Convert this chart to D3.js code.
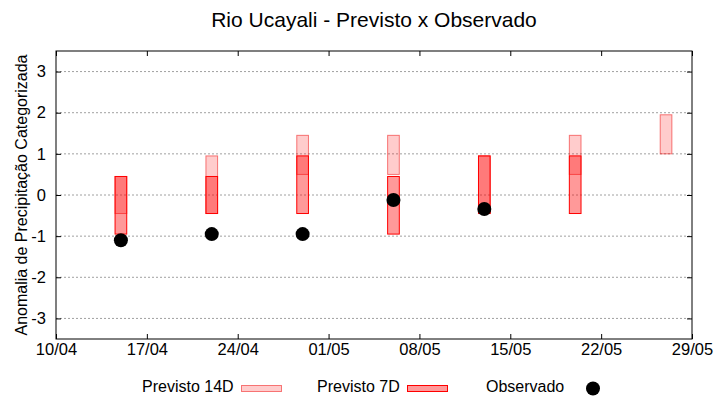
<!DOCTYPE html>
<html>
<head>
<meta charset="utf-8" />
<title>Rio Ucayali - Previsto x Observado</title>
<style>
    html, body { margin: 0; padding: 0; background: #fff; }
    text { font-family: "Liberation Sans", Arial, sans-serif; fill: #000; }
    .grid line { stroke: #a0a0a0; stroke-dasharray: 2,2; }
</style>
</head>
<body>
<svg width="720" height="400"></svg>
<script src="https://d3js.org/d3.v7.min.js"></script>
<script>
// data
var year = 2019;
var dates   = ["15/04", "22/04", "29/04", "06/05", "13/05", "20/05", "27/05"];
var p14Low  = [-0.45, -0.45, 0.5, 0.5, -0.45, 0.5, 1.0];
var p14High = [0.45, 0.95, 1.45, 1.45, 0.95, 1.45, 1.95];
var p7Low   = [-0.95, -0.45, -0.45, -0.95, -0.45, -0.45, null];
var p7High  = [0.45, 0.45, 0.95, 0.45, 0.95, 0.95, null];
var observed = [-1.1, -0.95, -0.95, -0.12, -0.34, null, null];
var xTickLabels = ["10/04", "17/04", "24/04", "01/05", "08/05", "15/05", "22/05", "29/05"];
var yTicks = [-3, -2, -1, 0, 1, 2, 3];

var parse = d3.utcParse("%d/%m/%Y");
function toDate(s) { return parse(s + "/" + year); }

var svg = d3.select("svg"),
    plotL = 56, plotR = 692, plotT = 51, plotB = 339;

var x = d3.scaleUtc()
    .domain([toDate(xTickLabels[0]), toDate(xTickLabels[xTickLabels.length - 1])])
    .range([plotL, plotR]);
var y = d3.scaleLinear().domain([-3.5, 3.5]).range([plotB, plotT]);

var dayW = x(toDate("11/04")) - x(toDate("10/04"));
var boxW = dayW * 0.9;

// gridlines
svg.append("g").attr("class", "grid")
    .selectAll("line").data(yTicks).enter().append("line")
    .attr("x1", plotL).attr("x2", plotR)
    .attr("y1", function (d) { return y(d); })
    .attr("y2", function (d) { return y(d); });

var xTicks = xTickLabels.map(toDate);

// axes (ticks pointing inward)
svg.append("g")
    .attr("transform", "translate(0," + plotB + ")")
    .call(d3.axisBottom(x).tickValues(xTicks).tickFormat(function (d, i) { return xTickLabels[i]; })
        .tickSizeInner(-5).tickSizeOuter(0).tickPadding(4))
    .call(function (g) {
        g.select(".domain").remove();
        g.selectAll("text").style("font-size", "16.5px").attr("font-family", null);
    });
svg.append("g")
    .attr("transform", "translate(0," + plotT + ")")
    .call(d3.axisTop(x).tickValues(xTicks).tickFormat("").tickSizeInner(-5).tickSizeOuter(0))
    .call(function (g) { g.select(".domain").remove(); });
svg.append("g")
    .attr("transform", "translate(" + plotL + ",0)")
    .call(d3.axisLeft(y).tickValues(yTicks).tickFormat(function (d) { return String(d); })
        .tickSizeInner(-5).tickSizeOuter(0).tickPadding(10))
    .call(function (g) {
        g.select(".domain").remove();
        g.selectAll("text").style("font-size", "16.5px").attr("font-family", null);
    });
svg.append("g")
    .attr("transform", "translate(" + plotR + ",0)")
    .call(d3.axisRight(y).tickValues(yTicks).tickFormat("").tickSizeInner(-5).tickSizeOuter(0))
    .call(function (g) { g.select(".domain").remove(); });

svg.selectAll(".tick line").attr("stroke", "#000");

// boxes: 14 days drawn first, 7 days on top
var idx = d3.range(dates.length);

svg.append("g").selectAll("rect")
    .data(idx.filter(function (i) { return p14Low[i] != null; }))
    .enter().append("rect")
    .attr("x", function (i) { return x(toDate(dates[i])) - boxW / 2; })
    .attr("width", boxW)
    .attr("y", function (i) { return y(p14High[i]); })
    .attr("height", function (i) { return y(p14Low[i]) - y(p14High[i]); })
    .attr("fill", "rgba(255,0,0,0.2)")
    .attr("stroke", "rgba(240,0,0,0.5)");

svg.append("g").selectAll("rect")
    .data(idx.filter(function (i) { return p7Low[i] != null; }))
    .enter().append("rect")
    .attr("x", function (i) { return x(toDate(dates[i])) - boxW / 2; })
    .attr("width", boxW)
    .attr("y", function (i) { return y(p7High[i]); })
    .attr("height", function (i) { return y(p7Low[i]) - y(p7High[i]); })
    .attr("fill", "rgba(255,0,0,0.4)")
    .attr("stroke", "#ff0000");

svg.append("g").selectAll("circle")
    .data(idx.filter(function (i) { return observed[i] != null; }))
    .enter().append("circle")
    .attr("cx", function (i) { return x(toDate(dates[i])); })
    .attr("cy", function (i) { return y(observed[i]); })
    .attr("r", 7)
    .attr("fill", "#000");

// frame
svg.append("rect")
    .attr("x", plotL).attr("y", plotT)
    .attr("width", plotR - plotL).attr("height", plotB - plotT)
    .attr("fill", "none").attr("stroke", "#000");

// title and axis label
svg.append("text")
    .attr("x", (plotL + plotR) / 2).attr("y", 27)
    .attr("text-anchor", "middle")
    .style("font-size", "21px")
    .text("Rio Ucayali - Previsto x Observado");

svg.append("text")
    .attr("transform", "translate(27," + (plotT + plotB) / 2 + ") rotate(-90)")
    .attr("text-anchor", "middle")
    .style("font-size", "16px")
    .text("Anomalia de Precipitação Categorizada");

// legend
var legend = svg.append("g").style("font-size", "16px");
legend.append("text").attr("x", 142).attr("y", 392).text("Previsto 14D");
legend.append("rect").attr("x", 241.5).attr("y", 385.5).attr("width", 40).attr("height", 6)
    .attr("fill", "rgba(255,0,0,0.2)").attr("stroke", "rgba(240,0,0,0.5)");
legend.append("text").attr("x", 317).attr("y", 392).text("Previsto 7D");
legend.append("rect").attr("x", 407.5).attr("y", 385.5).attr("width", 40).attr("height", 6)
    .attr("fill", "rgba(255,0,0,0.4)").attr("stroke", "#ff0000");
legend.append("text").attr("x", 486).attr("y", 392).text("Observado");
legend.append("circle").attr("cx", 593).attr("cy", 388.5).attr("r", 7).attr("fill", "#000");
</script>
</body>
</html>
